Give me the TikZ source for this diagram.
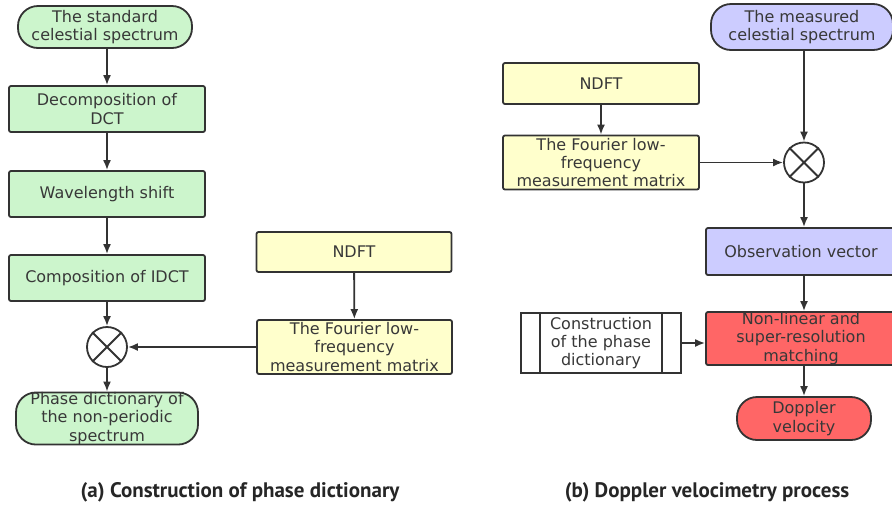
\documentclass[tikz,border=0pt]{standalone}
\usepackage{fontspec}
\setmainfont{DejaVu Sans}
\newfontfamily\capfont{PT Sans}
\usetikzlibrary{arrows.meta}
\definecolor{gfill}{HTML}{CCF5CC}
\definecolor{yfill}{HTML}{FFFFCC}
\definecolor{bfill}{HTML}{CCCCFF}
\definecolor{rfill}{HTML}{FF6666}
\definecolor{edge}{HTML}{333333}
\tikzset{
  x=1pt, y=-1pt,
  base/.style={draw=edge, line width=1.8pt, inner sep=0pt, align=center,
    font=\fontsize{16}{18.3}\selectfont, text=black!78},
  boxg/.style={base, fill=gfill, rounded corners=2pt, minimum width=196pt, minimum height=46pt},
  pillg/.style={base, fill=gfill, rounded corners=20pt},
  boxy/.style={base, fill=yfill, rounded corners=2pt, minimum width=195pt},
  boxb/.style={base, fill=bfill, rounded corners=2pt},
  boxr/.style={base, fill=rfill, rounded corners=2pt},
  pillb/.style={base, fill=bfill, rounded corners=20pt},
  pillr/.style={base, fill=rfill, rounded corners=20pt},
  mult/.style={draw=edge, line width=1.8pt, circle, minimum size=40pt, inner sep=0pt},
  conn/.style={draw=edge, line width=1.8pt, -{Latex[length=10pt,width=8pt]}},
  captxt/.style={font=\capfont\bfseries\fontsize{21}{24}\selectfont, text=black!85}
}
\begin{document}
\begin{tikzpicture}
\clip (0,0) rectangle (892,507);
\fill[white] (0,0) rectangle (892,507);
% left
\node[pillg, minimum width=174pt, minimum height=42pt] (s1) at (105,27) {The standard\\celestial spectrum};
\node[boxg] (dct) at (107,109) {Decomposition of\\DCT};
\node[boxg] (ws) at (107,194) {Wavelength shift};
\node[boxg] (idct) at (107,278) {Composition of IDCT};
\node[mult] (m1) at (107,347) {};
\draw[edge, line width=1.8pt] (m1.north west) -- (m1.south east) (m1.north east) -- (m1.south west);
\node[pillg, minimum width=182pt, minimum height=51pt] (pd) at (107,418.5) {Phase dictionary of\\the non-periodic\\spectrum};
\node[boxy, minimum height=40pt] (nd1) at (354,252) {NDFT};
\node[boxy, minimum height=54pt] (fl1) at (354.5,347) {The Fourier low-\\frequency\\measurement matrix};
\draw[conn] (s1.south -| dct) -- (dct);
\draw[conn] (dct) -- (ws);
\draw[conn] (ws) -- (idct);
\draw[conn] (idct) -- (m1);
\draw[conn] (m1) -- (pd);
\draw[conn] (nd1) -- (fl1);
\draw[conn] (fl1.west) -- (m1.east);
% right
\node[pillb, minimum width=182pt, minimum height=46pt] (s2) at (802,27) {The measured\\celestial spectrum};
\node[boxy, minimum height=41pt, minimum width=196pt] (nd2) at (601,83.5) {NDFT};
\node[boxy, minimum height=54pt, minimum width=196pt] (fl2) at (601,162.5) {The Fourier low-\\frequency\\measurement matrix};
\node[mult] (m2) at (804,162.5) {};
\draw[edge, line width=1.8pt] (m2.north west) -- (m2.south east) (m2.north east) -- (m2.south west);
\node[boxb, minimum width=190pt, minimum height=47pt] (ov) at (801,251.5) {Observation vector};
\node[boxr, minimum width=190pt, minimum height=53pt] (nl) at (801,338.5) {Non-linear and\\super-resolution\\matching};
\node[pillr, minimum width=134pt, minimum height=43pt] (dv) at (804,418.5) {Doppler\\velocity};
\node[base, minimum width=160pt, minimum height=60pt, rounded corners=0pt] (cp) at (601,343) {Construction\\of the phase\\dictionary};
\draw[edge, line width=1.8pt] ([xshift=20pt]cp.north west) -- ([xshift=20pt]cp.south west)
  ([xshift=-20pt]cp.north east) -- ([xshift=-20pt]cp.south east);
\draw[conn] (nd2) -- (fl2);
\draw[conn] (fl2.east) -- (m2.west);
\draw[conn] (s2.south -| m2) -- (m2);
\draw[conn] (m2) -- (m2 |- ov.north);
\draw[conn] (ov.south -| m2) -- (m2 |- nl.north);
\draw[conn] (nl.south -| m2) -- (dv);
\draw[conn] (cp.east) -- (cp.east -| nl.west);
% captions
\node[captxt] (ca) at (240,492) {(a) Construction of phase dictionary};
\node[captxt] (cb) at (707,492) {(b) Doppler velocimetry process};
\end{tikzpicture}
\end{document}
